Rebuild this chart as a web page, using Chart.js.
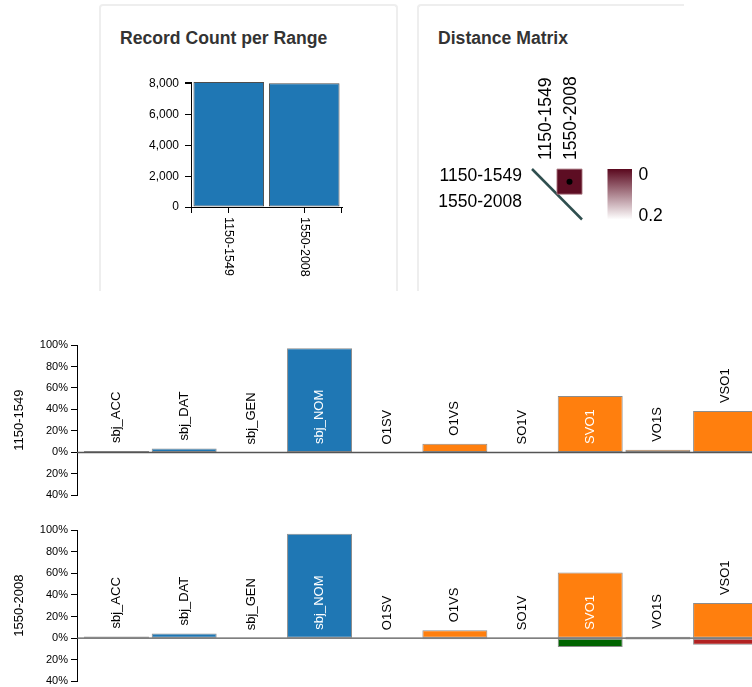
<!DOCTYPE html>
<html>
<head>
<meta charset="utf-8">
<script src="https://cdn.jsdelivr.net/npm/chart.js@4.4.0/dist/chart.umd.min.js"></script>
<style>
  html, body { margin: 0; padding: 0; background: #fff; overflow: hidden; }
  body { width: 752px; height: 687px; position: relative; font-family: "Liberation Sans", Arial, sans-serif; }
  .card { position: absolute; top: 4px; height: 287px; border: 2px solid #eee; border-bottom: none; border-radius: 4px 4px 0 0; box-sizing: border-box; }
  #card1 { left: 99px; width: 299px; }
  #card2 { left: 417px; width: 267px; border-right: none; border-radius: 4px 0 0 0; }
  .card h3 { position: absolute; left: 19px; top: 22px; margin: 0; font: bold 17.6px/20px "Liberation Sans", Arial, sans-serif; color: #333; white-space: nowrap; }
  canvas { position: absolute; }
</style>
</head>
<body>
<div class="card" id="card1"><h3>Record Count per Range</h3></div>
<div class="card" id="card2"><h3>Distance Matrix</h3></div>
<canvas id="countChart" width="296" height="230" style="left:100px;top:60px"></canvas>
<canvas id="matrixChart" width="260" height="180" style="left:432px;top:60px"></canvas>
<canvas id="range1Chart" width="800" height="175" style="left:0;top:330px"></canvas>
<canvas id="range2Chart" width="800" height="176" style="left:0;top:515px"></canvas>
<script>
// ** data
const rangeLabels = ['1150-1549', '1550-2008']
const recordCounts = [8120, 8040]
const countTicks = [0, 2000, 4000, 6000, 8000]

const distanceMatrix = [[0, 0.004], [0.004, 0]]
const distanceMarked = [[false, true], [true, false]]
const distanceScale = [0, 0.2]

const categories = ['sbj_ACC', 'sbj_DAT', 'sbj_GEN', 'sbj_NOM', 'O1SV', 'O1VS', 'SO1V', 'SVO1', 'VO1S', 'VSO1']
const categoryGroups = ['case', 'case', 'case', 'case', 'order', 'order', 'order', 'order', 'order', 'order']
const share1150 = [1.3, 3.6, 0, 97, 0, 8.1, 0, 52.5, 2.4, 38.5]
const share1550 = [1.5, 4.2, 0, 96.5, 0, 7.3, 0, 60.6, 1.3, 32.4]
const change1550 = [0, 0, 0, 0, 0, -1.1, 0, 8.1, -1.3, -6.2]
const percentTicks = [-40, -20, 0, 20, 40, 60, 80, 100]

const FONT = '"Liberation Sans", Arial, sans-serif'
Chart.defaults.font.family = FONT
Chart.defaults.color = '#000'
Chart.defaults.animation = false
Chart.defaults.plugins.legend.display = false
Chart.defaults.plugins.tooltip.enabled = false

const groupColor = { case: '#1f77b4', order: '#ff7f0e' }
const DARK = [90, 8, 30]

function distColor(v) {
  const t = Math.min(1, Math.max(0, (v - distanceScale[0]) / (distanceScale[1] - distanceScale[0])))
  const c = DARK.map(d => Math.round(d + (255 - d) * t))
  return 'rgb(' + c.join(',') + ')'
}

// ** Record count per range
const countDecor = {
  id: 'countDecor',
  afterDraw(chart) {
    const { ctx, chartArea: a, scales } = chart
    ctx.save()
    ctx.strokeStyle = '#000'
    ctx.lineWidth = 1
    ctx.beginPath()
    ctx.moveTo(a.left + 0.5, a.bottom)
    ctx.lineTo(a.left + 0.5, a.bottom + 6)
    ctx.moveTo(a.right - 0.5, a.bottom)
    ctx.lineTo(a.right - 0.5, a.bottom + 6)
    ctx.moveTo(a.left - 6, a.top + 0.5)
    ctx.lineTo(a.left, a.top + 0.5)
    ctx.stroke()
    ctx.fillStyle = '#000'
    ctx.font = '12.5px ' + FONT
    ctx.textAlign = 'left'
    ctx.textBaseline = 'middle'
    rangeLabels.forEach((lab, i) => {
      ctx.save()
      ctx.translate(scales.x.getPixelForValue(i), a.bottom + 10)
      ctx.rotate(Math.PI / 2)
      ctx.fillText(lab, 0, 0)
      ctx.restore()
    })
    ctx.restore()
  }
}

new Chart(document.getElementById('countChart'), {
  type: 'bar',
  data: {
    labels: rangeLabels,
    datasets: [{
      data: recordCounts,
      backgroundColor: '#1f77b4',
      borderColor: '#4d4d4d',
      borderWidth: 1,
      borderSkipped: false,
      categoryPercentage: 0.935,
      barPercentage: 1
    }]
  },
  options: {
    responsive: false,
    layout: { padding: { top: 22, right: 54, left: 0, bottom: 0 } },
    scales: {
      x: {
        offset: true,
        grid: { offset: false, drawOnChartArea: false, tickLength: 6, tickColor: '#000' },
        border: { color: '#000' },
        ticks: { display: false },
        afterFit: s => { s.height = 83 }
      },
      y: {
        min: 0,
        max: Math.max(...recordCounts),
        afterBuildTicks: s => { s.ticks = countTicks.map(v => ({ value: v })) },
        grid: { drawOnChartArea: false, tickLength: 6, tickColor: '#000' },
        border: { color: '#000' },
        ticks: { font: { size: 12 }, padding: 6, callback: v => v.toLocaleString('en-US') },
        afterFit: s => { s.width = 91 }
      }
    }
  },
  plugins: [countDecor]
})

// ** Distance matrix
const cells = []
const marks = []
distanceMatrix.forEach((row, r) => row.forEach((v, c) => {
  if (c > r) {
    cells.push({ x: c, y: r, v })
    if (distanceMarked[r][c]) marks.push({ x: c, y: r })
  }
}))

const matrixLegend = {
  id: 'matrixLegend',
  afterDraw(chart) {
    const { ctx, chartArea: a } = chart
    const x0 = a.right + 25.5
    const w = 24.5
    const g = ctx.createLinearGradient(0, a.top, 0, a.bottom)
    g.addColorStop(0, distColor(distanceScale[0]))
    g.addColorStop(1, distColor(distanceScale[1]))
    ctx.save()
    ctx.fillStyle = g
    ctx.fillRect(x0, a.top, w, a.bottom - a.top)
    ctx.fillStyle = '#000'
    ctx.font = '17.5px ' + FONT
    ctx.textAlign = 'left'
    ctx.textBaseline = 'alphabetic'
    ctx.fillText(String(distanceScale[0]), x0 + w + 6.5, a.top + 11)
    ctx.fillText(String(distanceScale[1]), x0 + w + 6.5, a.bottom + 1)
    ctx.restore()
  }
}

const matrixTicks = s => { s.ticks = rangeLabels.map((_, i) => ({ value: i })) }

new Chart(document.getElementById('matrixChart'), {
  type: 'scatter',
  data: {
    datasets: [
      {
        data: marks,
        pointRadius: 3,
        backgroundColor: '#000',
        borderWidth: 0,
        clip: false
      },
      {
        data: cells,
        pointStyle: 'rect',
        pointRadius: 17.7,
        backgroundColor: cells.map(c => distColor(c.v)),
        borderColor: 'rgba(170,120,130,0.9)',
        borderWidth: 1,
        clip: false
      },
      {
        type: 'line',
        data: [{ x: -0.5, y: -0.5 }, { x: rangeLabels.length - 0.5, y: rangeLabels.length - 0.5 }],
        borderColor: '#2f4f4f',
        borderWidth: 2.5,
        pointRadius: 0,
        clip: false
      }
    ]
  },
  options: {
    responsive: false,
    layout: { padding: { top: 0, left: 0, right: 110, bottom: 20 } },
    scales: {
      x: {
        type: 'linear',
        position: 'top',
        min: -0.5,
        max: rangeLabels.length - 0.5,
        afterBuildTicks: matrixTicks,
        grid: { display: false, drawTicks: false },
        border: { display: false },
        ticks: {
          font: { size: 17.5 }, padding: 9, labelOffset: 23, autoSkip: false,
          minRotation: 90, maxRotation: 90,
          callback: v => rangeLabels[v]
        },
        afterFit: s => { s.height = 109 }
      },
      y: {
        type: 'linear',
        reverse: true,
        min: -0.5,
        max: rangeLabels.length - 0.5,
        afterBuildTicks: matrixTicks,
        grid: { display: false, drawTicks: false },
        border: { display: false },
        ticks: { font: { size: 17.5 }, padding: 10, labelOffset: -5, callback: v => rangeLabels[v] },
        afterFit: s => { s.width = 100 }
      }
    }
  },
  plugins: [matrixLegend]
})

// ** Share per category, one chart per range
const barLabels = {
  id: 'barLabels',
  afterDatasetsDraw(chart) {
    const { ctx, chartArea: a, scales } = chart
    const y0 = scales.y.getPixelForValue(0)
    ctx.save()
    ctx.strokeStyle = '#555'
    ctx.lineWidth = 1.4
    ctx.beginPath()
    ctx.moveTo(a.left, y0)
    ctx.lineTo(a.right, y0)
    ctx.stroke()
    ctx.font = '13px ' + FONT
    ctx.textAlign = 'left'
    ctx.textBaseline = 'middle'
    chart.getDatasetMeta(0).data.forEach((bar, i) => {
      const inside = bar.base - bar.y > 50
      const start = inside ? bar.base - 8 : Math.min(bar.y, bar.base) - 8
      ctx.save()
      ctx.translate(bar.x, start)
      ctx.rotate(-Math.PI / 2)
      ctx.fillStyle = inside ? '#fff' : '#000'
      ctx.fillText(categories[i], 0, 0)
      ctx.restore()
    })
    ctx.restore()
  }
}

function shareChart(id, title, shares, changes) {
  const datasets = [{
    data: shares.map((v, i) => ({ x: i, y: v })),
    backgroundColor: categoryGroups.map(g => groupColor[g]),
    borderColor: 'rgba(0,0,0,0.45)',
    borderWidth: 1,
    borderSkipped: false,
    grouped: false,
    categoryPercentage: 1,
    barPercentage: 0.96
  }]
  if (changes) {
    datasets.push({
      data: changes.map((v, i) => ({ x: i, y: -Math.abs(v) })),
      backgroundColor: changes.map(v => v > 0 ? '#006400' : '#b22222'),
      borderColor: 'rgba(0,0,0,0.45)',
      borderWidth: 1,
      borderSkipped: false,
      grouped: false,
      categoryPercentage: 1,
      barPercentage: 0.96
    })
  }
  return new Chart(document.getElementById(id), {
    type: 'bar',
    data: { datasets },
    options: {
      responsive: false,
      layout: { padding: { top: 15, bottom: 8, left: 0, right: 0 } },
      scales: {
        x: {
          type: 'linear',
          display: false,
          offset: false,
          min: -0.5837,
          max: 10.1,
          afterBuildTicks: s => { s.ticks = categories.map((_, i) => ({ value: i })) }
        },
        y: {
          min: percentTicks[0],
          max: percentTicks[percentTicks.length - 1],
          afterBuildTicks: s => { s.ticks = percentTicks.map(v => ({ value: v })) },
          grid: { drawOnChartArea: false, tickLength: 6, tickColor: '#000' },
          border: { color: '#000' },
          ticks: { font: { size: 11 }, padding: 3, callback: v => Math.abs(v) + '%' },
          title: { display: true, text: title, font: { size: 13 }, padding: { top: 12, bottom: 4 } },
          afterFit: s => { s.width = 77 }
        }
      }
    },
    plugins: [barLabels]
  })
}

shareChart('range1Chart', rangeLabels[0], share1150, null)
shareChart('range2Chart', rangeLabels[1], share1550, change1550)
</script>
</body>
</html>
